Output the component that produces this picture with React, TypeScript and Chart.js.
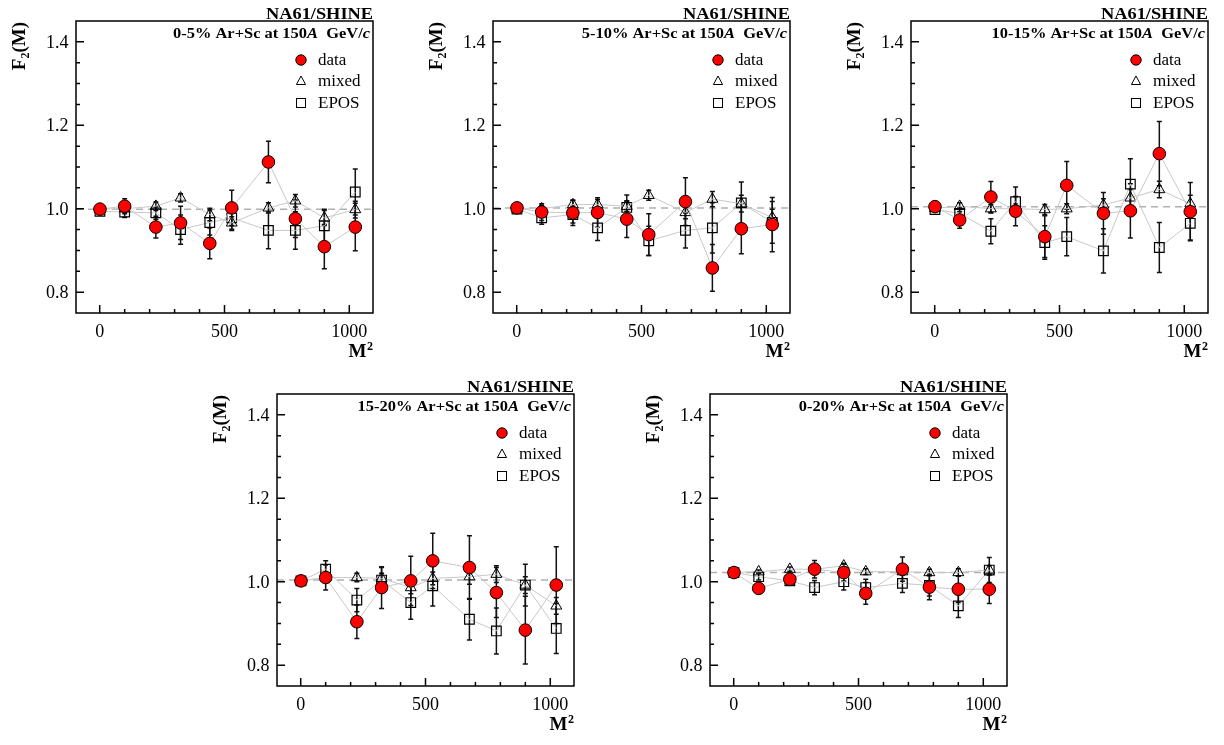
import React, { useEffect, useRef } from "react";
import { Chart, registerables } from "chart.js";

Chart.register(...registerables);

// ---------------- data ----------------
const M2 = [1, 100, 225, 324, 441, 529, 676, 784, 900, 1024];

const CENTRALITY = ["0-5%", "5-10%", "10-15%", "15-20%", "0-20%"];
const REF_LEVEL = [0.999, 1.002, 1.005, 1.004, 1.022];

const DATA_0_5 = [0.999, 1.006, 0.956, 0.966, 0.917, 1.002, 1.112, 0.976, 0.909, 0.956];
const DATA_ERR_0_5 = [0.005, 0.018, 0.026, 0.04, 0.037, 0.042, 0.05, 0.045, 0.053, 0.057];
const MIXED_0_5 = [0.999, 1.0, 1.006, 1.026, 0.986, 0.966, 1.002, 1.019, 0.978, 0.998];
const MIXED_ERR_0_5 = [0.003, 0.008, 0.01, 0.01, 0.015, 0.015, 0.012, 0.015, 0.018, 0.02];
const EPOS_0_5 = [0.994, 0.992, 0.99, 0.95, 0.967, 0.978, 0.948, 0.948, 0.959, 1.04];
const EPOS_ERR_0_5 = [0.005, 0.013, 0.015, 0.035, 0.03, 0.03, 0.044, 0.045, 0.04, 0.055];

const DATA_5_10 = [1.002, 0.992, 0.99, 0.991, 0.975, 0.938, 1.017, 0.858, 0.952, 0.962];
const DATA_ERR_5_10 = [0.005, 0.02, 0.03, 0.035, 0.044, 0.05, 0.057, 0.056, 0.06, 0.065];
const MIXED_5_10 = [1.0, 1.0, 1.01, 1.01, 1.006, 1.032, 0.991, 1.023, 1.012, 0.979];
const MIXED_ERR_5_10 = [0.003, 0.008, 0.01, 0.012, 0.012, 0.012, 0.015, 0.018, 0.02, 0.02];
const EPOS_5_10 = [0.999, 0.978, 0.986, 0.954, 1.003, 0.923, 0.948, 0.954, 1.014, 0.967];
const EPOS_ERR_5_10 = [0.005, 0.015, 0.02, 0.03, 0.03, 0.035, 0.042, 0.06, 0.05, 0.05];

const DATA_10_15 = [1.005, 0.973, 1.028, 0.994, 0.933, 1.056, 0.989, 0.995, 1.132, 0.993];
const DATA_ERR_10_15 = [0.005, 0.02, 0.037, 0.035, 0.05, 0.057, 0.05, 0.065, 0.077, 0.07];
const MIXED_10_15 = [1.001, 1.006, 1.0, 1.0, 0.998, 1.0, 1.009, 1.026, 1.046, 1.012];
const MIXED_ERR_10_15 = [0.003, 0.008, 0.01, 0.012, 0.012, 0.012, 0.015, 0.02, 0.02, 0.02];
const EPOS_10_15 = [0.998, 0.989, 0.946, 1.017, 0.919, 0.933, 0.899, 1.059, 0.907, 0.965];
const EPOS_ERR_10_15 = [0.005, 0.015, 0.03, 0.035, 0.04, 0.046, 0.053, 0.061, 0.06, 0.04];

const DATA_15_20 = [1.002, 1.01, 0.904, 0.986, 1.002, 1.05, 1.034, 0.974, 0.884, 0.992];
const DATA_ERR_15_20 = [0.005, 0.03, 0.04, 0.05, 0.059, 0.066, 0.076, 0.06, 0.081, 0.092];
const MIXED_15_20 = [1.002, 1.01, 1.01, 1.008, 0.986, 1.008, 1.012, 1.018, 0.992, 0.942];
const MIXED_ERR_15_20 = [0.003, 0.01, 0.01, 0.012, 0.015, 0.015, 0.018, 0.02, 0.02, 0.02];
const EPOS_15_20 = [1.002, 1.03, 0.956, 1.004, 0.95, 0.99, 0.91, 0.882, 0.992, 0.888];
const EPOS_ERR_15_20 = [0.005, 0.02, 0.028, 0.03, 0.04, 0.048, 0.05, 0.055, 0.05, 0.06];

const DATA_0_20 = [1.022, 0.984, 1.006, 1.03, 1.022, 0.972, 1.03, 0.987, 0.982, 0.982];
const DATA_ERR_0_20 = [0.003, 0.008, 0.012, 0.021, 0.02, 0.026, 0.029, 0.03, 0.032, 0.034];
const MIXED_0_20 = [1.022, 1.024, 1.03, 1.03, 1.038, 1.024, 1.024, 1.022, 1.022, 1.028];
const MIXED_ERR_0_20 = [0.002, 0.004, 0.005, 0.006, 0.006, 0.007, 0.008, 0.008, 0.009, 0.01];
const EPOS_0_20 = [1.022, 1.012, 1.002, 0.986, 1.0, 0.986, 0.996, 0.991, 0.942, 1.028];
const EPOS_ERR_0_20 = [0.003, 0.008, 0.01, 0.017, 0.02, 0.02, 0.022, 0.025, 0.028, 0.03];

const X_TICKS = [0, 500, 1000];
const X_MINOR = [0, 100, 200, 300, 400, 500, 600, 700, 800, 900, 1000];
const Y_TICKS = [0.8, 1.0, 1.2, 1.4];
const Y_MINOR = [0.8, 0.85, 0.9, 0.95, 1.0, 1.05, 1.1, 1.15, 1.2, 1.25, 1.3, 1.35, 1.4];
const X_MIN = -95;
const X_MAX = 1095;
const Y_MIN = 0.75;
const Y_MAX = 1.45;

const LEGEND_LABELS = ["data", "mixed", "EPOS"];
const EXPERIMENT = "NA61/SHINE";

// ---------------- layout ----------------
const FRAME_POS = [
  { left: 76, top: 21 },
  { left: 493, top: 21 },
  { left: 911, top: 21 },
  { left: 277, top: 394 },
  { left: 710, top: 394 },
];
const PW = 297;
const PH = 292;
const PAD_L = 76;
const PAD_T = 21;
const PAD_R = 10;
const PAD_B = 58;
const CW = PAD_L + PW + PAD_R;
const CH = PAD_T + PH + PAD_B;

const SERIF = '"Liberation Serif", "Times New Roman", Times, serif';

type Series = { vals: number[]; errs: number[] };
type PanelDef = {
  label: string;
  ref: number;
  data: Series;
  mixed: Series;
  epos: Series;
};

const PANELS: PanelDef[] = [
  { label: CENTRALITY[0], ref: REF_LEVEL[0], data: { vals: DATA_0_5, errs: DATA_ERR_0_5 }, mixed: { vals: MIXED_0_5, errs: MIXED_ERR_0_5 }, epos: { vals: EPOS_0_5, errs: EPOS_ERR_0_5 } },
  { label: CENTRALITY[1], ref: REF_LEVEL[1], data: { vals: DATA_5_10, errs: DATA_ERR_5_10 }, mixed: { vals: MIXED_5_10, errs: MIXED_ERR_5_10 }, epos: { vals: EPOS_5_10, errs: EPOS_ERR_5_10 } },
  { label: CENTRALITY[2], ref: REF_LEVEL[2], data: { vals: DATA_10_15, errs: DATA_ERR_10_15 }, mixed: { vals: MIXED_10_15, errs: MIXED_ERR_10_15 }, epos: { vals: EPOS_10_15, errs: EPOS_ERR_10_15 } },
  { label: CENTRALITY[3], ref: REF_LEVEL[3], data: { vals: DATA_15_20, errs: DATA_ERR_15_20 }, mixed: { vals: MIXED_15_20, errs: MIXED_ERR_15_20 }, epos: { vals: EPOS_15_20, errs: EPOS_ERR_15_20 } },
  { label: CENTRALITY[4], ref: REF_LEVEL[4], data: { vals: DATA_0_20, errs: DATA_ERR_0_20 }, mixed: { vals: MIXED_0_20, errs: MIXED_ERR_0_20 }, epos: { vals: EPOS_0_20, errs: EPOS_ERR_0_20 } },
];

function drawScaledRight(ctx: CanvasRenderingContext2D, segs: { t: string; font: string }[], xRight: number, y: number, sx: number) {
  let total = 0;
  const widths = segs.map((s) => {
    ctx.font = s.font;
    const w = ctx.measureText(s.t).width;
    total += w;
    return w;
  });
  ctx.save();
  ctx.translate(xRight - total * sx, y);
  ctx.scale(sx, 1);
  ctx.textAlign = "left";
  let x = 0;
  segs.forEach((s, i) => {
    ctx.font = s.font;
    ctx.fillText(s.t, x, 0);
    x += widths[i];
  });
  ctx.restore();
}

function subtitleSegs(label: string) {
  const b = `bold 15px ${SERIF}`;
  const bi = `italic bold 15px ${SERIF}`;
  return [
    { t: `${label} Ar+Sc at 150`, font: b },
    { t: "A", font: bi },
    { t: "  GeV/", font: b },
    { t: "c", font: bi },
  ];
}

function makeDecor(p: PanelDef) {
  return {
    id: "panelDecor",
    beforeDatasetsDraw(chart: any) {
      const ctx: CanvasRenderingContext2D = chart.ctx;
      const { left, right } = chart.chartArea;
      const xs = chart.scales.x;
      const ys = chart.scales.y;
      ctx.save();
      // reference dashed line
      const yr = ys.getPixelForValue(p.ref);
      ctx.strokeStyle = "#b0b0b0";
      ctx.lineWidth = 1.5;
      ctx.setLineDash([7, 5]);
      ctx.beginPath();
      ctx.moveTo(left, yr);
      ctx.lineTo(right, yr);
      ctx.stroke();
      ctx.setLineDash([]);
      // error bars
      ctx.strokeStyle = "#111";
      ctx.lineWidth = 1.5;
      for (const s of [p.epos, p.mixed, p.data]) {
        s.vals.forEach((v, j) => {
          const x = xs.getPixelForValue(M2[j]);
          const y1 = ys.getPixelForValue(v + s.errs[j]);
          const y2 = ys.getPixelForValue(v - s.errs[j]);
          ctx.beginPath();
          ctx.moveTo(x, y1);
          ctx.lineTo(x, y2);
          ctx.moveTo(x - 2.5, y1);
          ctx.lineTo(x + 2.5, y1);
          ctx.moveTo(x - 2.5, y2);
          ctx.lineTo(x + 2.5, y2);
          ctx.stroke();
        });
      }
      ctx.restore();
    },
    afterDraw(chart: any) {
      const ctx: CanvasRenderingContext2D = chart.ctx;
      const { left, right, top, bottom } = chart.chartArea;
      const xs = chart.scales.x;
      const ys = chart.scales.y;
      ctx.save();
      // frame
      ctx.strokeStyle = "#000";
      ctx.lineWidth = 1.5;
      ctx.strokeRect(left, top, right - left, bottom - top);
      // ticks
      ctx.lineWidth = 1.5;
      ctx.beginPath();
      X_MINOR.forEach((v) => {
        const x = xs.getPixelForValue(v);
        const len = X_TICKS.includes(v) ? 8 : 4;
        ctx.moveTo(x, bottom);
        ctx.lineTo(x, bottom - len);
      });
      Y_MINOR.forEach((v) => {
        const y = ys.getPixelForValue(v);
        const major = Y_TICKS.some((t) => Math.abs(t - v) < 1e-6);
        ctx.moveTo(left, y);
        ctx.lineTo(left + (major ? 8 : 4), y);
      });
      ctx.stroke();
      // tick labels
      ctx.fillStyle = "#000";
      ctx.font = `18px ${SERIF}`;
      ctx.textBaseline = "alphabetic";
      ctx.textAlign = "center";
      X_TICKS.forEach((v) => {
        ctx.fillText(String(v), xs.getPixelForValue(v), bottom + 24);
      });
      ctx.textAlign = "right";
      Y_TICKS.forEach((v) => {
        ctx.fillText(v.toFixed(1), left - 7.5, ys.getPixelForValue(v) + 6);
      });
      // axis title M^2
      ctx.textAlign = "right";
      ctx.font = `bold 12px ${SERIF}`;
      const w2 = ctx.measureText("2").width;
      ctx.fillText("2", right, bottom + 37);
      ctx.font = `bold 19px ${SERIF}`;
      ctx.fillText("M", right - w2 - 0.5, bottom + 44);
      // axis title F2(M), rotated
      ctx.save();
      ctx.font = `bold 19px ${SERIF}`;
      const wF = ctx.measureText("F").width;
      const wRest = ctx.measureText("(M)").width;
      ctx.font = `bold 12px ${SERIF}`;
      const wSub = ctx.measureText("2").width;
      const total = wF + wSub + wRest;
      ctx.translate(left - 51, top + 1 + total);
      ctx.rotate(-Math.PI / 2);
      ctx.textAlign = "left";
      ctx.font = `bold 19px ${SERIF}`;
      ctx.fillText("F", 0, 0);
      ctx.font = `bold 12px ${SERIF}`;
      ctx.fillText("2", wF, 4);
      ctx.font = `bold 19px ${SERIF}`;
      ctx.fillText("(M)", wF + wSub, 0);
      ctx.restore();
      // experiment label
      ctx.font = `bold 17px ${SERIF}`;
      const wExp = ctx.measureText(EXPERIMENT).width;
      drawScaledRight(ctx, [{ t: EXPERIMENT, font: `bold 17px ${SERIF}` }], right, top - 2.5, 107 / wExp);
      // subtitle
      const refSegs = subtitleSegs(CENTRALITY[0]);
      let refW = 0;
      refSegs.forEach((s) => {
        ctx.font = s.font;
        refW += ctx.measureText(s.t).width;
      });
      drawScaledRight(ctx, subtitleSegs(p.label), right - 3, top + 17, 197 / refW);
      // legend
      const lx = right - 72;
      const tx = right - 55;
      const ly = [top + 39, top + 60, top + 82];
      ctx.lineWidth = 1;
      ctx.strokeStyle = "#000";
      ctx.beginPath();
      ctx.arc(lx, ly[0], 5.2, 0, Math.PI * 2);
      ctx.fillStyle = "#ff0000";
      ctx.fill();
      ctx.stroke();
      ctx.beginPath();
      ctx.moveTo(lx, ly[1] - 5);
      ctx.lineTo(lx + 4.6, ly[1] + 3.5);
      ctx.lineTo(lx - 4.6, ly[1] + 3.5);
      ctx.closePath();
      ctx.stroke();
      ctx.strokeRect(lx - 4.5, ly[2] - 4.5, 9, 9);
      ctx.fillStyle = "#000";
      ctx.font = `17px ${SERIF}`;
      ctx.textAlign = "left";
      ctx.textBaseline = "middle";
      LEGEND_LABELS.forEach((t, i) => ctx.fillText(t, tx, ly[i] + 1));
      ctx.restore();
    },
  };
}

function Panel({ p, pos }: { p: PanelDef; pos: { left: number; top: number } }) {
  const ref = useRef<HTMLCanvasElement | null>(null);
  useEffect(() => {
    if (!ref.current) return;
    const mk = (s: Series) => M2.map((x, i) => ({ x, y: s.vals[i] }));
    const chart = new Chart(ref.current, {
      type: "scatter",
      data: {
        datasets: [
          {
            label: LEGEND_LABELS[0],
            data: mk(p.data),
            showLine: true,
            borderColor: "#c8c8c8",
            borderWidth: 1,
            pointStyle: "circle",
            pointRadius: 6.3,
            pointBackgroundColor: "#ff0000",
            pointBorderColor: "#000",
            pointBorderWidth: 1,
          },
          {
            label: LEGEND_LABELS[1],
            data: mk(p.mixed),
            showLine: true,
            borderColor: "#c8c8c8",
            borderWidth: 1,
            pointStyle: "triangle",
            pointRadius: 6.3,
            pointBackgroundColor: "rgba(0,0,0,0)",
            pointBorderColor: "#000",
            pointBorderWidth: 1,
          },
          {
            label: LEGEND_LABELS[2],
            data: mk(p.epos),
            showLine: true,
            borderColor: "#c8c8c8",
            borderWidth: 1,
            pointStyle: "rect",
            pointRadius: 6.8,
            pointBackgroundColor: "rgba(0,0,0,0)",
            pointBorderColor: "#000",
            pointBorderWidth: 1.2,
          },
        ],
      } as any,
      options: {
        animation: false,
        responsive: false,
        devicePixelRatio: 1,
        events: [],
        layout: { padding: { left: PAD_L, top: PAD_T, right: PAD_R, bottom: PAD_B } },
        scales: {
          x: { type: "linear", min: X_MIN, max: X_MAX, display: false },
          y: { type: "linear", min: Y_MIN, max: Y_MAX, display: false },
        },
        plugins: { legend: { display: false }, tooltip: { enabled: false } },
        elements: { line: { tension: 0 } },
      } as any,
      plugins: [makeDecor(p) as any],
    });
    return () => chart.destroy();
  }, [p]);
  return (
    <canvas
      ref={ref}
      width={CW}
      height={CH}
      style={{ position: "absolute", left: pos.left - PAD_L, top: pos.top - PAD_T, width: CW, height: CH, display: "block" }}
    />
  );
}

export default function App() {
  return (
    <div style={{ position: "absolute", left: 0, top: 0, width: 1224, height: 744, background: "#fff", overflow: "hidden" }}>
      {PANELS.map((p, i) => (
        <Panel key={i} p={p} pos={FRAME_POS[i]} />
      ))}
    </div>
  );
}
